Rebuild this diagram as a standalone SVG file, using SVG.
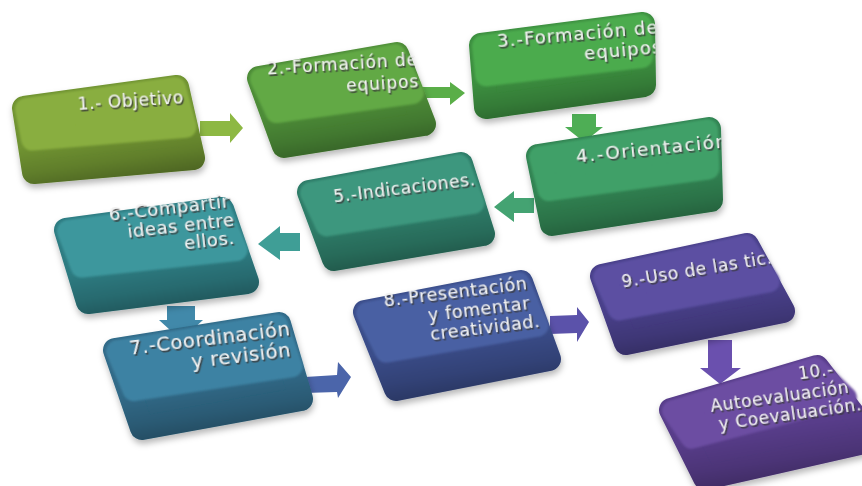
<svg xmlns="http://www.w3.org/2000/svg" width="862" height="486" viewBox="0 0 862 486">
<style>
.cap{stroke-width:24;stroke-linejoin:round;filter:url(#shadow)}
.shd{fill:url(#frontShade)}
.face{stroke-width:22;stroke-linejoin:round;filter:url(#soft)}
.mk{fill:#fff;stroke:#fff;stroke-width:24;stroke-linejoin:round}
.mk2{fill:#fff}
.lbl{font-family:"DejaVu Sans","Open Sans",sans-serif;font-size:17px;letter-spacing:0.6px;fill:#f1f1f1;text-anchor:end;filter:url(#emb)}
.n1 .cap{fill:#6f9332;stroke:#6f9332}.n1 .face{fill:#89ae3f;stroke:#89ae3f}
.n2 .cap{fill:#4e8c37;stroke:#4e8c37}.n2 .face{fill:#62a945;stroke:#62a945}
.n3 .cap{fill:#3c8f3f;stroke:#3c8f3f}.n3 .face{fill:#4cab4d;stroke:#4cab4d}
.n4 .cap{fill:#318452;stroke:#318452}.n4 .face{fill:#40a068;stroke:#40a068}
.n5 .cap{fill:#2e7c67;stroke:#2e7c67}.n5 .face{fill:#3c977e;stroke:#3c977e}
.n6 .cap{fill:#2f7c82;stroke:#2f7c82}.n6 .face{fill:#3d979d;stroke:#3d979d}
.n7 .cap{fill:#306b88;stroke:#306b88}.n7 .face{fill:#3e82a3;stroke:#3e82a3}
.n8 .cap{fill:#3b4e8a;stroke:#3b4e8a}.n8 .face{fill:#4a61a3;stroke:#4a61a3}
.n9 .cap{fill:#493f8a;stroke:#493f8a}.n9 .face{fill:#5b4fa2;stroke:#5b4fa2}
.n10 .cap{fill:#583e8a;stroke:#583e8a}.n10 .face{fill:#6c4da2;stroke:#6c4da2}
</style>
<defs>
<filter id="shadow" x="-30%" y="-40%" width="160%" height="180%">
<feDropShadow dx="1" dy="4" stdDeviation="3" flood-color="#000" flood-opacity="0.28"/>
</filter>
<filter id="soft" x="-30%" y="-40%" width="160%" height="180%">
<feGaussianBlur stdDeviation="1.3"/>
</filter>
<filter id="emb" x="-10%" y="-30%" width="120%" height="160%">
<feDropShadow dx="1.3" dy="1.8" stdDeviation="0.45" flood-color="#3a3a3a" flood-opacity="0.95"/>
</filter>
<linearGradient id="frontShade" x1="0" y1="0" x2="0" y2="1" gradientTransform="rotate(-14 0.5 0.5)">
<stop offset="0" stop-color="#000" stop-opacity="0"/>
<stop offset="0.55" stop-color="#000" stop-opacity="0"/>
<stop offset="0.78" stop-color="#000" stop-opacity="0.14"/>
<stop offset="1" stop-color="#000" stop-opacity="0.34"/>
</linearGradient>
<polygon id="o1" points="24,108 177,87 193,158 34,172"/>
<polygon id="t1" points="26,109 175,88 185.6,126.7 32.2,139.6"/>
<polygon id="o2" points="259,78 397,54 424,124 284,146"/>
<polygon id="t2" points="261,79 395,55 412.8,93 276.5,112"/>
<polygon id="o3" points="481,45 643,24 644,85 486,107"/>
<polygon id="t3" points="483,46 641,25 641.7,57.1 486.1,75.3"/>
<polygon id="o4" points="538,156 709,129 711,200 552,224"/>
<polygon id="t4" points="540,157 707,130 708.3,168.7 548.7,190"/>
<polygon id="o5" points="309,192 461,164 483,234 334,259"/>
<polygon id="t5" points="311,193 459,165 473.5,203 326.5,225.4"/>
<polygon id="o6" points="66,230 222,209 247,282 88,302"/>
<polygon id="t6" points="68,231 220,210 236.5,250 81.6,266.5"/>
<polygon id="o7" points="115,350 279,324 301,399 142,428"/>
<polygon id="t7" points="117,351 277,325 291.5,366.3 133.7,390.2"/>
<polygon id="o8" points="365,312 521,282 549,359 396,389"/>
<polygon id="t8" points="367,313 519,283 537.5,325.7 386.2,351.6"/>
<polygon id="o9" points="602,276 747,245 783,311 626,343"/>
<polygon id="t9" points="604,277 745,246 768.8,281.4 618.9,309.4"/>
<polygon id="o10" points="671,410 817,367 873,440 705,478"/>
<polygon id="t10" points="673,411 815,368 845.8,397.4 691.7,437.6"/>
<mask id="m1" maskUnits="userSpaceOnUse" x="0" y="0" width="862" height="486"><use href="#o1" class="mk"/><polygon class="mk2" points="-8,106 -8,30 179,30 192,90"/></mask>
<mask id="m2" maskUnits="userSpaceOnUse" x="0" y="0" width="862" height="486"><use href="#o2" class="mk"/><polygon class="mk2" points="227,76 227,-3 392,-3 415,57"/></mask>
<mask id="m3" maskUnits="userSpaceOnUse" x="0" y="0" width="862" height="486"><use href="#o3" class="mk"/><polygon class="mk2" points="449,43 449,-33 654,-33 655,27"/></mask>
<mask id="m4" maskUnits="userSpaceOnUse" x="0" y="0" width="862" height="486"><use href="#o4" class="mk"/><polygon class="mk2" points="506,154 506,72 720,72 721,132"/></mask>
<mask id="m5" maskUnits="userSpaceOnUse" x="0" y="0" width="862" height="486"><use href="#o5" class="mk"/><polygon class="mk2" points="277,190 277,107 459,107 478,167"/></mask>
<mask id="m6" maskUnits="userSpaceOnUse" x="0" y="0" width="862" height="486"><use href="#o6" class="mk"/><polygon class="mk2" points="34,228 34,152 226,152 242,212"/></mask>
<mask id="m7" maskUnits="userSpaceOnUse" x="0" y="0" width="862" height="486"><use href="#o7" class="mk"/><polygon class="mk2" points="83,348 83,267 278,267 295,327"/></mask>
<mask id="m8" maskUnits="userSpaceOnUse" x="0" y="0" width="862" height="486"><use href="#o8" class="mk"/><polygon class="mk2" points="333,310 333,225 517,225 538,285"/></mask>
<mask id="m9" maskUnits="userSpaceOnUse" x="0" y="0" width="862" height="486"><use href="#o9" class="mk"/><polygon class="mk2" points="570,274 570,188 735,188 767,248"/></mask>
<mask id="m10" maskUnits="userSpaceOnUse" x="0" y="0" width="862" height="486"><use href="#o10" class="mk"/><polygon class="mk2" points="639,408 639,310 795,310 840,370"/></mask>
</defs>
<rect width="862" height="486" fill="#fff"/>
<g id="connectors">
<polygon fill="#8db843" points="200,121 230,121 230,113 243,128 230,143 230,136 200,136"/>
<polygon fill="#5aae48" points="420,87 450,87 450,82 465,93 450,105 450,98 420,98"/>
<polygon fill="#4eae55" points="572,114 596,114 596,127 603,127 584,142 565,127 572,127"/>
<polygon fill="#44a372" points="534,198 514,198 514,191 494,207 514,222 514,213 534,213"/>
<polygon fill="#3f9e96" points="300,233 280,233 280,226 258,244 280,260 280,251 300,251"/>
<polygon fill="#4189aa" points="167,306 195,306 195,320 203,320 181,340 159,320 167,320"/>
<polygon fill="#4b65aa" points="305,377 337,375 338,362 351,377 338,398 337,392 305,393"/>
<polygon fill="#5b52aa" points="550,316 577,315 577,307 589,322 577,342 577,333 550,334"/>
<polygon fill="#6a50ae" points="708,340 732,340 732,368 741,368 720,384 700,368 708,368"/>
</g>
<g id="node1" class="n1">
<use href="#o1" class="cap"/><rect class="shd" x="12" y="75" width="194" height="110" mask="url(#m1)"/><use href="#t1" class="face"/>
<g mask="url(#m1)"><text class="lbl" transform="translate(184,103) rotate(-3.7)"><tspan x="0" y="0">1.- Objetivo</tspan></text></g>
</g>
<g id="node2" class="n2">
<use href="#o2" class="cap"/><rect class="shd" x="247" y="42" width="190" height="116" mask="url(#m2)"/><use href="#t2" class="face"/>
<g mask="url(#m2)"><text class="lbl" style="letter-spacing:0.9px" transform="translate(418,65) rotate(-3.6)"><tspan x="0" y="0">2.-Formación de</tspan><tspan x="0" y="22">equipos</tspan></text></g>
</g>
<g id="node3" class="n3">
<use href="#o3" class="cap"/><rect class="shd" x="469" y="12" width="188" height="107" mask="url(#m3)"/><use href="#t3" class="face"/>
<g mask="url(#m3)"><text class="lbl" style="font-size:18px;letter-spacing:1.1px" transform="translate(659,33) rotate(-5)"><tspan x="0" y="0">3.-Formación de</tspan><tspan x="2" y="20">equipos</tspan></text></g>
</g>
<g id="node4" class="n4">
<use href="#o4" class="cap"/><rect class="shd" x="526" y="117" width="198" height="119" mask="url(#m4)"/><use href="#t4" class="face"/>
<g mask="url(#m4)"><text class="lbl" style="font-size:18.5px;letter-spacing:1.5px" transform="translate(729,147) rotate(-5.8)"><tspan x="0" y="0">4.-Orientación</tspan></text></g>
</g>
<g id="node5" class="n5">
<use href="#o5" class="cap"/><rect class="shd" x="297" y="152" width="199" height="119" mask="url(#m5)"/><use href="#t5" class="face"/>
<g mask="url(#m5)"><text class="lbl" transform="translate(476,185) rotate(-7)"><tspan x="0" y="0">5.-Indicaciones.</tspan></text></g>
</g>
<g id="node6" class="n6">
<use href="#o6" class="cap"/><rect class="shd" x="54" y="197" width="206" height="117" mask="url(#m6)"/><use href="#t6" class="face"/>
<g mask="url(#m6)"><text class="lbl" style="font-size:18px" transform="translate(230,207) rotate(-6.5)"><tspan x="0" y="0">6.-Compartir</tspan><tspan x="3" y="18.5">ideas entre</tspan><tspan x="1" y="37">ellos.</tspan></text></g>
</g>
<g id="node7" class="n7">
<use href="#o7" class="cap"/><rect class="shd" x="103" y="312" width="211" height="128" mask="url(#m7)"/><use href="#t7" class="face"/>
<g mask="url(#m7)"><text class="lbl" style="font-size:19.5px" transform="translate(291,335) rotate(-7)"><tspan x="0" y="0">7.-Coordinación</tspan><tspan x="-2" y="21">y revisión</tspan></text></g>
</g>
<g id="node8" class="n8">
<use href="#o8" class="cap"/><rect class="shd" x="353" y="270" width="209" height="131" mask="url(#m8)"/><use href="#t8" class="face"/>
<g mask="url(#m8)"><text class="lbl" style="font-size:17.5px" transform="translate(528,289) rotate(-7)"><tspan x="0" y="0">8.-Presentación</tspan><tspan x="0" y="20">y fomentar</tspan><tspan x="8" y="39">creatividad.</tspan></text></g>
</g>
<g id="node9" class="n9">
<use href="#o9" class="cap"/><rect class="shd" x="590" y="232" width="206" height="123" mask="url(#m9)"/><use href="#t9" class="face"/>
<g mask="url(#m9)"><text class="lbl" transform="translate(773,263) rotate(-9.3)"><tspan x="0" y="0">9.-Uso de las tic.</tspan></text></g>
</g>
<g id="node10" class="n10">
<use href="#o10" class="cap"/><rect class="shd" x="659" y="355" width="226" height="135" mask="url(#m10)"/><use href="#t10" class="face"/>
<g mask="url(#m10)"><text class="lbl" transform="translate(852,372) rotate(-8)"><tspan x="-18" y="0">10.-</tspan><tspan x="-5" y="20">Autoevaluación</tspan><tspan x="5" y="39">y Coevaluación.</tspan></text></g>
</g>
</svg>
